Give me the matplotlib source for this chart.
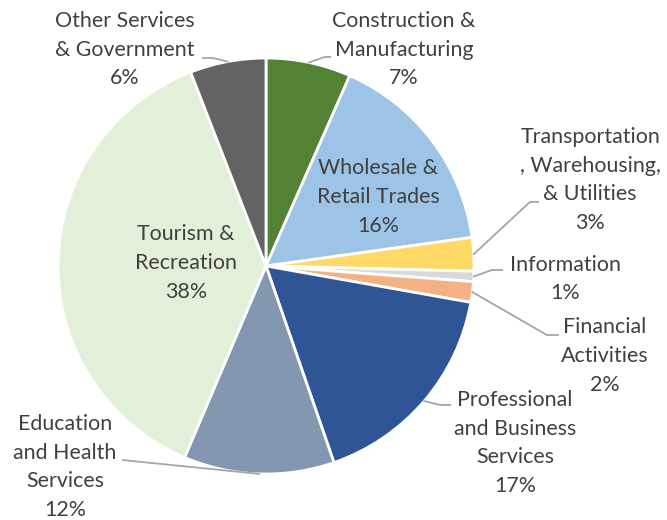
import matplotlib

matplotlib.use("Agg")
import matplotlib.pyplot as plt
import numpy as np

# --------------------------------------------------------------- data

sectors = [
    "Construction &\nManufacturing",
    "Wholesale &\nRetail Trades",
    "Transportation\n, Warehousing,\n& Utilities",
    "Information",
    "Financial\nActivities",
    "Professional\nand Business\nServices",
    "Education\nand Health\nServices",
    "Tourism &\nRecreation",
    "Other Services\n& Government",
]
shares = [6.6, 16.2, 2.6, 0.8, 1.6, 16.9, 11.7, 37.7, 5.9]
colors = ["#548235", "#9DC3E6", "#FFD966", "#D9D9D9", "#F4B183",
          "#2F5597", "#8497B0", "#E2F0D9", "#636363"]

# --------------------------------------------------------------- layout

# label centres (data units, pie radius = 1)
label_pos = [(0.663, 1.04), (0.538, 0.332), (1.558, 0.413), (1.438, -0.0625),
             (1.63, -0.433), (1.197, -0.851), (-0.966, -0.966), (-0.385, 0.014),
             (-0.678, 1.04)]
# leader polyline after the wedge edge point (None = label inside)
leaders = [
    [(0.284, 1.005), (0.308, 1.005)],
    None,
    [(1.269, 0.308), (1.308, 0.308)],
    [(1.087, -0.019), (1.135, -0.019)],
    [(1.351, -0.332), (1.404, -0.332)],
    [(0.837, -0.668), (0.885, -0.668)],
    [(-0.688, -0.933)],
    None,
    [(-0.255, 1.0), (-0.303, 1.0)],
]

TEXT = "#404040"
LINE = "#A6A6A6"

fig = plt.figure(figsize=(6.67, 5.2), dpi=100)
ax = fig.add_axes([58 / 667, 46 / 520, 416 / 667, 416 / 520])

wedges, _ = ax.pie(shares, colors=colors, startangle=90, counterclock=False,
                   radius=1, wedgeprops={"edgecolor": "white", "linewidth": 2})
ax.set_xlim(-1, 1)
ax.set_ylim(-1, 1)
ax.set_aspect("equal")
ax.axis("off")

total = sum(shares)
for w, name, val, pos, lead in zip(wedges, sectors, shares, label_pos, leaders):
    ax.text(pos[0], pos[1], f"{name}\n{val / total * 100:.0f}%",
            ha="center", va="center", fontsize=15.4, color=TEXT,
            family="Lato", linespacing=1.55, clip_on=False)
    if lead is None:
        continue
    mid = np.deg2rad((w.theta1 + w.theta2) / 2)
    xs = [np.cos(mid)] + [p[0] for p in lead]
    ys = [np.sin(mid)] + [p[1] for p in lead]
    ax.plot(xs, ys, color=LINE, linewidth=1.3, clip_on=False)

fig.savefig("out.png", dpi=100)
plt.close(fig)
